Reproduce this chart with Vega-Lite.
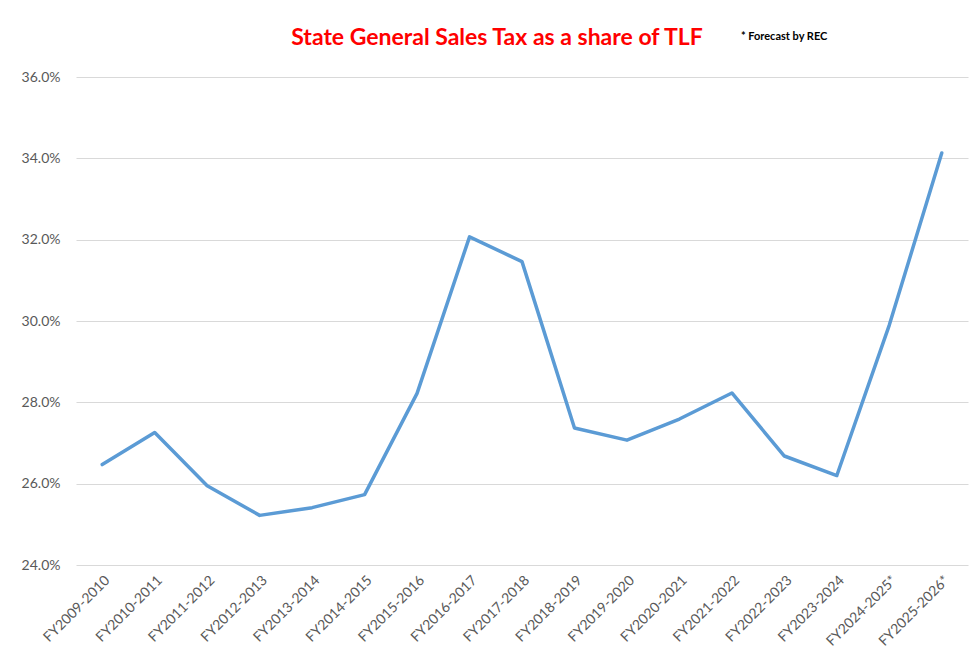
{
  "$schema": "https://vega.github.io/schema/vega-lite/v6.json",
  "width": 892,
  "height": 488,
  "autosize": {"type": "none"},
  "padding": {"left": 76, "top": 77, "right": 12, "bottom": 97},
  "background": "white",
  "config": {
    "view": {"stroke": null},
    "font": "Lato"
  },
  "title": {
    "text": "State General Sales Tax as a share of TLF",
    "color": "#FF0000",
    "font": "Lato",
    "fontSize": 23,
    "fontWeight": "bold",
    "anchor": "middle",
    "dx": -25,
    "offset": -19
  },
  "data": {
    "values": [
      {"year": "FY2009-2010", "share": 0.2647},
      {"year": "FY2010-2011", "share": 0.2726},
      {"year": "FY2011-2012", "share": 0.2595},
      {"year": "FY2012-2013", "share": 0.2522},
      {"year": "FY2013-2014", "share": 0.2541},
      {"year": "FY2014-2015", "share": 0.2573},
      {"year": "FY2015-2016", "share": 0.2822},
      {"year": "FY2016-2017", "share": 0.3207},
      {"year": "FY2017-2018", "share": 0.3146},
      {"year": "FY2018-2019", "share": 0.2737},
      {"year": "FY2019-2020", "share": 0.2707},
      {"year": "FY2020-2021", "share": 0.2759},
      {"year": "FY2021-2022", "share": 0.2823},
      {"year": "FY2022-2023", "share": 0.2668},
      {"year": "FY2023-2024", "share": 0.2620},
      {"year": "FY2024-2025*", "share": 0.2990},
      {"year": "FY2025-2026*", "share": 0.3413}
    ]
  },
  "layer": [
    {
      "mark": {"type": "line", "color": "#5B9BD5", "strokeWidth": 3.5, "strokeCap": "round", "strokeJoin": "round"},
      "encoding": {
        "x": {
          "field": "year",
          "type": "ordinal",
          "sort": null,
          "scale": {"type": "point", "padding": 0.5},
          "axis": {
            "title": null,
            "labelAngle": -45,
            "labelFontSize": 14,
            "labelColor": "#595959",
            "labelPadding": 8,
            "ticks": false,
            "domain": false,
            "grid": false
          }
        },
        "y": {
          "field": "share",
          "type": "quantitative",
          "scale": {"domain": [0.24, 0.36], "nice": false, "zero": false},
          "axis": {
            "title": null,
            "format": ".1%",
            "values": [0.24, 0.26, 0.28, 0.30, 0.32, 0.34, 0.36],
            "labelFontSize": 14,
            "labelColor": "#595959",
            "labelPadding": 16,
            "ticks": false,
            "domain": false,
            "gridColor": "#D9D9D9",
            "gridWidth": 1
          }
        }
      }
    },
    {
      "data": {"values": [{"note": "* Forecast by REC", "year": "FY2021-2022", "pos": 0.3698}]},
      "mark": {"type": "text", "align": "left", "baseline": "middle", "dx": 9, "fontSize": 11, "fontWeight": "bold", "color": "#000000", "font": "Lato"},
      "encoding": {
        "x": {"field": "year", "type": "ordinal"},
        "y": {"field": "pos", "type": "quantitative"},
        "text": {"field": "note"}
      }
    }
  ]
}
